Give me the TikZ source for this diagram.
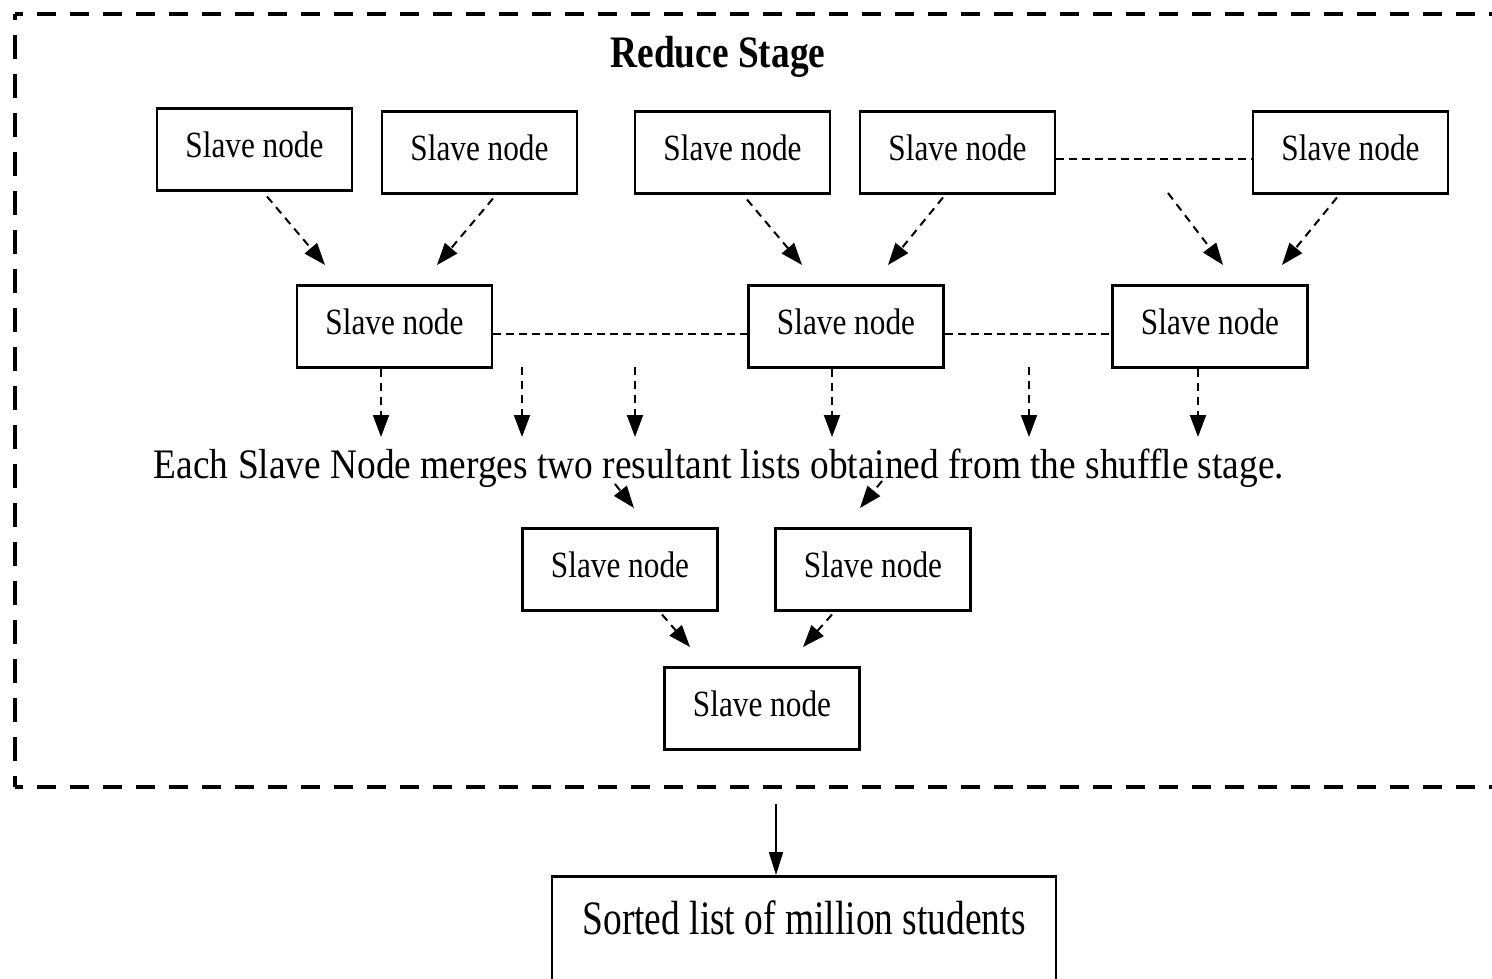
\documentclass[tikz,border=0pt]{standalone}
\usepackage{fontspec}
\usetikzlibrary{arrows.meta}
\setmainfont{Liberation Serif}
\newfontfamily\boxfont[FakeStretch=0.845]{Liberation Serif}
\newfontfamily\titlefont[FakeStretch=0.83]{Liberation Serif}
\newfontfamily\notefont[FakeStretch=0.89]{Liberation Serif}
\newfontfamily\resultfont[FakeStretch=0.78]{Liberation Serif}
\tikzset{
  slavebox/.style={draw, line width=2.5pt, anchor=north, minimum width=195pt,
    inner xsep=0pt, inner ysep=0pt, text height=49pt, text depth=33pt,
    font=\boxfont\fontsize{37}{40}\selectfont},
  resultbox/.style={draw, line width=2.5pt, anchor=north, minimum width=504pt,
    inner xsep=0pt, inner ysep=0pt, text height=58pt, text depth=47pt,
    font=\resultfont\fontsize{48}{52}\selectfont},
  framedashh/.style={line width=4.5pt, dash pattern=on 19pt off 14pt, dash phase=11pt},
  framedashv/.style={line width=4.5pt, dash pattern=on 24pt off 15pt, dash phase=18pt},
  linkline/.style={line width=2pt, dash pattern=on 8pt off 5pt},
  flow/.style={line width=2pt, dash pattern=on 8pt off 6pt,
    -{Triangle[length=22pt,width=16pt]}},
  solidflow/.style={line width=2pt, -{Triangle[length=23pt,width=14pt]}},
}
\begin{document}
\begin{tikzpicture}[x=1pt,y=-1pt]
\useasboundingbox (0,0) rectangle (1492,978);

% stage frame (open on the right)
\draw[framedashh] (15,14) -- (1492,14);
\draw[framedashv] (15,14) -- (15,787);
\draw[framedashh] (15,787) -- (1492,787);

\node[anchor=base, font=\titlefont\bfseries\fontsize{45}{48}\selectfont] (title) at (718,67) {Reduce Stage};

% first level of slave nodes
\node[slavebox] (b1) at (254.5,107) {Slave node};
\node[slavebox] (b2) at (479.5,110) {Slave node};
\node[slavebox] (b3) at (732.5,110) {Slave node};
\node[slavebox] (b4) at (957.5,110) {Slave node};
\node[slavebox] (b5) at (1350.5,110) {Slave node};
\draw[linkline] ([yshift=-7pt]b4.east) -- ([yshift=-7pt]b5.west);

% second level
\node[slavebox] (c1) at (394.5,284) {Slave node};
\node[slavebox] (c2) at (846,284) {Slave node};
\node[slavebox] (c3) at (1210,284) {Slave node};
\draw[linkline] ([yshift=-8pt]c1.east) -- ([yshift=-8pt]c2.west);
\draw[linkline] ([yshift=-8pt]c2.east) -- ([yshift=-8pt]c3.west);

% arrow ends between levels one and two
\coordinate (t1) at (325,265);
\coordinate (t2) at (437,265);
\coordinate (t3) at (802,265);
\coordinate (t4) at (888,265);
\coordinate (s5) at (1168,193);
\coordinate (t5) at (1223,265);
\coordinate (t6) at (1282,265);
\draw[flow] ([xshift=12.5pt,yshift=-5pt]b1.south) -- (t1);
\draw[flow] ([xshift=13.5pt,yshift=-4pt]b2.south) -- (t2);
\draw[flow] ([xshift=14.5pt,yshift=-5pt]b3.south) -- (t3);
\draw[flow] ([xshift=-14.5pt,yshift=-3pt]b4.south) -- (t4);
\draw[flow] (s5) -- (t5);
\draw[flow] ([xshift=-13.5pt,yshift=-3pt]b5.south) -- (t6);

% merge note
\node[anchor=base, font=\notefont\fontsize{42}{46}\selectfont] (note) at (719,478)
  {Each Slave Node merges two resultant lists obtained from the shuffle stage.};

\coordinate (u1) at (381,437);
\coordinate (v2) at (522,367);
\coordinate (u2) at (522,437);
\coordinate (v3) at (635,367);
\coordinate (u3) at (635,437);
\coordinate (u4) at (832,437);
\coordinate (v5) at (1029,367);
\coordinate (u5) at (1029,437);
\coordinate (u6) at (1198,437);
\draw[flow] ([xshift=-13.5pt]c1.south) -- (u1);
\draw[flow] (v2) -- (u2);
\draw[flow] (v3) -- (u3);
\draw[flow] ([xshift=-14pt]c2.south) -- (u4);
\draw[flow] (v5) -- (u5);
\draw[flow] ([xshift=-12pt]c3.south) -- (u6);

% third level
\node[slavebox] (d1) at (620,527) {Slave node};
\node[slavebox] (d2) at (873,527) {Slave node};
\coordinate (w1) at (615,484);
\coordinate (x1) at (634,508);
\coordinate (w2) at (882,481);
\coordinate (x2) at (860,508);
\draw[flow] (w1) -- (x1);
\draw[flow] (w2) -- (x2);

% final merge
\node[slavebox] (e) at (762,666) {Slave node};
\coordinate (y1) at (690,647);
\coordinate (y2) at (803,647);
\draw[flow] ([xshift=42pt,yshift=-3pt]d1.south) -- (y1);
\draw[flow] ([xshift=-41pt,yshift=-3pt]d2.south) -- (y2);

% output
\node[resultbox] (f) at (804,875) {Sorted list of million students};
\coordinate (z0) at (776,804);
\draw[solidflow] (z0) -- ([xshift=-28pt]f.north);
\end{tikzpicture}
\end{document}
